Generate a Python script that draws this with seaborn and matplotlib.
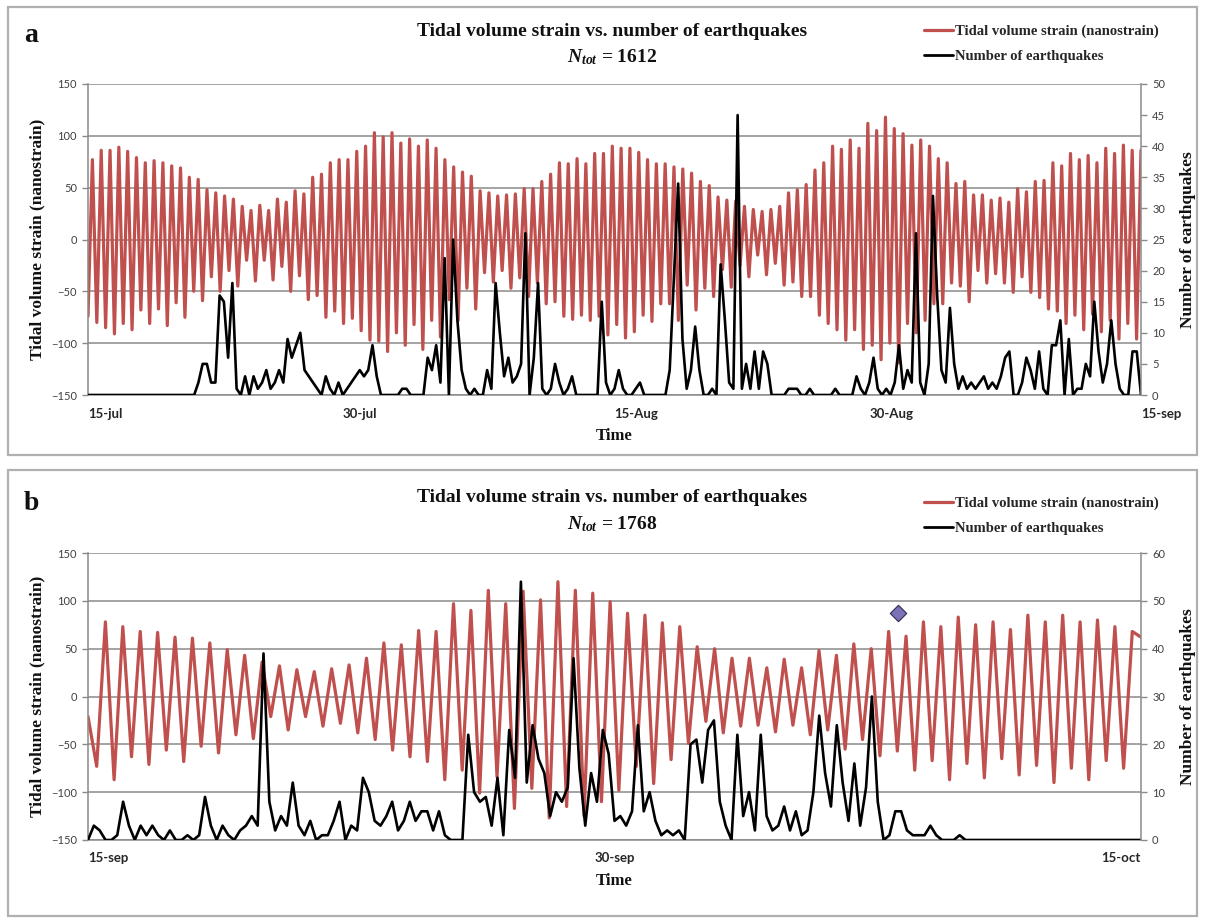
import numpy as np
import pandas as pd
import matplotlib
matplotlib.use("Agg")
import matplotlib.pyplot as plt
from matplotlib.lines import Line2D
from matplotlib.patches import Rectangle
import seaborn as sns

# ---------------- DATA ----------------
# Panel a : 15 Jul - 15 Sep, tidal strain extremes (nanostrain), trough then peak for each cycle
a_troughs = [-74, -80, -85, -91, -81, -87, -68, -81, -67, -83, -61, -75, -50, -59, -36, -50, -30,
             -45, -20, -40, -20, -39, -26, -50, -35, -58, -54, -75, -69, -81, -76, -88, -97, -98,
             -108, -90, -102, -82, -106, -78, -94, -58, -78, -47, -67, -32, -41, -30, -47, -37,
             -55, -42, -62, -60, -74, -77, -73, -78, -74, -92, -82, -95, -89, -73, -79, -62, -62,
             -78, -44, -68, -47, -55, -29, -46, -25, -36, -15, -34, -23, -44, -41, -55, -55, -73,
             -81, -87, -97, -87, -106, -102, -116, -100, -119, -81, -90, -78, -62, -62, -42, -45,
             -60, -30, -42, -33, -42, -51, -36, -51, -56, -67, -69, -81, -73, -87, -72, -89, -78,
             -96, -81, -96]
a_peaks = [77, 86, 86, 89, 85, 79, 74, 76, 74, 71, 69, 60, 58, 48, 45, 42, 39, 32, 28, 33, 28,
           39, 36, 47, 44, 60, 63, 74, 77, 77, 85, 90, 103,
           99, 103, 93, 97, 90, 96, 88, 77, 70, 65, 61, 47, 45, 42, 43, 44, 49, 49, 56, 63, 74,
           73, 78, 73, 83, 83, 90, 88, 88, 84, 77, 73, 73,
           70, 68, 64, 56, 52, 41, 38, 37, 32, 29, 27, 29, 32, 45, 48, 53, 67, 74, 90, 87, 96,
           88, 112, 105, 118, 107, 102, 91, 96, 90, 78, 74, 54,
           56, 43, 43, 38, 40, 36, 49, 46, 56, 57, 74, 71, 83, 77, 81, 74, 88, 83, 91, 86, 86]
# number of earthquakes, 6-hour bins from 15 Jul 00h to 15 Sep 00h
a_quakes = [0, 0, 0, 0,   0, 0, 0, 0,   0, 0, 0, 0,   0, 0, 0, 0,   0, 0, 0, 0,   0, 0, 0, 0,
            0, 0, 2, 5,   5, 2, 2, 16,  15, 6, 18, 1,  0, 3, 0, 3,   1, 2, 4, 1,   2, 4, 2, 9,
            6, 8, 10, 4,  3, 2, 1, 0,   3, 1, 0, 2,   0, 1, 2, 3,   4, 3, 4, 8,   3, 0, 0, 0,
            0, 0, 1, 1,   0, 0, 0, 0,   6, 4, 8, 2,   22, 0, 25, 12, 4, 1, 0, 1,  0, 0, 4, 1,
            18, 10, 3, 6, 2, 3, 5, 26,  0, 6, 18, 1,  0, 1, 5, 2,   0, 1, 3, 0,   0, 0, 0, 0,
            0, 15, 2, 0,  1, 4, 1, 0,   0, 1, 2, 0,   0, 0, 0, 0,   0, 4, 19, 34, 9, 1, 4, 11,
            4, 0, 0, 1,   0, 21, 12, 2, 1, 45, 1, 5,  1, 7, 1, 7,   5, 0, 0, 0,   0, 1, 1, 1,
            0, 0, 1, 0,   0, 0, 0, 0,   1, 0, 0, 0,   0, 3, 1, 0,   2, 6, 1, 0,   1, 0, 2, 8,
            1, 4, 2, 26,  2, 0, 5, 32,  16, 4, 2, 14, 5, 1, 3, 1,   2, 1, 2, 3,   1, 2, 1, 3,
            6, 7, 0, 0,   2, 6, 4, 1,   7, 1, 0, 8,   8, 12, 0, 9,  0, 1, 1, 5,   3, 15, 7, 2,
            5, 12, 5, 1,  0, 0, 7, 7,   0]
a_tick_dates = ["2011-07-15", "2011-07-30", "2011-08-15", "2011-08-30", "2011-09-15"]
a_tick_labels = ["15-jul", "30-jul", "15-Aug", "30-Aug", "15-sep"]
a_ntot = 1612

# Panel b : 15 Sep - 15 Oct
b_start, b_end = -21, 62
b_troughs = [-73, -87, -63, -71, -56, -68, -52, -59, -40, -44, -21, -35, -21, -31, -28, -38, -45,
             -56, -63,
             -68, -87, -77, -101, -84, -117, -96, -127, -115, -125, -110, -98, -73, -91, -66, -49,
             -26, -38, -31, -30, -37, -30,
             -40, -35, -55, -45, -62, -57, -77, -67, -87, -70, -85, -65, -82, -72, -90, -75, -87,
             -67, -75]
b_peaks = [78, 73, 68, 67, 62, 61, 56, 49, 43, 36, 32, 28, 26, 29, 33, 40, 56, 54, 69,
           68, 97, 90, 111, 97, 110, 101, 120, 111, 108, 99, 87, 85, 77, 73, 52, 50, 40, 40, 30, 39,
           30, 48, 43, 55, 50, 68, 63, 78, 73, 83, 75, 78, 70, 85, 78, 85, 78, 80, 73, 68]
# number of earthquakes, 4-hour bins from 15 Sep 00h to 15 Oct 00h
b_quakes = [0, 3, 2, 0, 0, 1,     8, 3, 0, 3, 1, 3,      1, 0, 2, 0, 0, 1,
            0, 1, 9, 3, 0, 3,     1, 0, 2, 3, 5, 3,      39, 8, 2, 5, 3, 12,
            3, 1, 4, 0, 1, 1,     4, 8, 0, 3, 2, 13,     10, 4, 3, 5, 8, 2,
            4, 8, 4, 6, 6, 2,     6, 1, 0, 0, 0, 22,     10, 8, 9, 3, 13, 1,
            23, 13, 54, 12, 24, 17, 14, 5, 10, 8, 11, 38, 15, 3, 14, 8, 23, 18,
            4, 5, 3, 6, 24, 6,    10, 4, 1, 2, 1, 2,     0, 20, 21, 12, 23, 25,
            8, 3, 0, 22, 5, 10,   2, 22, 5, 2, 3, 7,     2, 6, 1, 2, 10, 26,
            14, 7, 24, 12, 4, 16, 3, 11, 30, 8, 0, 1,    6, 6, 2, 1, 1, 1,
            3, 1, 0, 0, 0, 1,     0, 0, 0, 0, 0, 0,      0, 0, 0, 0, 0, 0,
            0, 0, 0, 0, 0, 0,     0, 0, 0, 0, 0, 0,      0, 0, 0, 0, 0, 0,
            0]
b_tick_dates = ["2011-09-15", "2011-09-30", "2011-10-15"]
b_tick_labels = ["15-sep", "30-sep", "15-oct"]
b_ntot = 1768
b_event_time = ["2011-10-08 02:00"]
b_event_value = [87]

strain_ticks = [-150, -100, -50, 0, 50, 100, 150]

# ---------------- STYLE ----------------
sns.set_theme(style="white")
plt.rcParams["font.family"] = ["Liberation Serif", "DejaVu Serif"]
plt.rcParams["mathtext.fontset"] = "custom"
plt.rcParams["mathtext.it"] = "Liberation Serif:italic:bold"
plt.rcParams["mathtext.rm"] = "Liberation Serif:bold"

RED = "#c0504d"
GRID = "#8a8a8a"
TICKC = "#404040"
W, H = 1205, 923


def fx(px):
    return px / W


def fy(py):
    return 1 - py / H


def interleave(troughs, peaks):
    out = []
    for t, p in zip(troughs, peaks):
        out += [t, p]
    return out


fig = plt.figure(figsize=(W / 100, H / 100), dpi=100)

# panel frames
for (top, bot) in [(7, 455), (470, 916)]:
    fig.patches.append(Rectangle((fx(8), fy(bot)), fx(1197) - fx(8), fy(top) - fy(bot),
                                 transform=fig.transFigure, fill=False,
                                 edgecolor="#b0b0b0", lw=1.6, zorder=0))


def draw_panel(top, bot, strain_time, strain, q_time, quakes, qmax, qstep,
               tick_dates, tick_labels, tick_ha, letter, ntot, title_y, leg_y):
    ax = fig.add_axes([fx(88), fy(bot), fx(1141) - fx(88), fy(top) - fy(bot)])
    df_s = pd.DataFrame({"t": strain_time, "v": strain})
    sns.lineplot(data=df_s, x="t", y="v", ax=ax, color=RED, lw=2.3,
                 errorbar=None, sort=False)
    ax.set_ylim(-150, 150)
    ax.set_yticks(strain_ticks)
    ax.set_xlim(pd.Timestamp(tick_dates[0]), pd.Timestamp(tick_dates[-1]))
    ax.grid(axis="y", color=GRID, lw=1.1)
    ax.grid(axis="x", visible=False)
    ax.set_axisbelow(True)
    for s in ["top", "right"]:
        ax.spines[s].set_visible(False)
    for s in ["left", "bottom"]:
        ax.spines[s].set_color(GRID)
        ax.spines[s].set_linewidth(1.1)
    ax.tick_params(axis="y", left=True, length=4, width=1, color=GRID, labelsize=8,
                   labelcolor=TICKC, pad=4, labelfontfamily="Lato")
    ax.set_xticks([pd.Timestamp(d) for d in tick_dates])
    ax.set_xticklabels(tick_labels)
    ax.tick_params(axis="x", bottom=False, length=0, pad=9, labelsize=9.5,
                   labelcolor="#262626", labelfontfamily="Lato")
    for lbl, ha in zip(ax.get_xticklabels(), tick_ha):
        lbl.set_fontweight("bold")
        lbl.set_ha(ha)
    ax.set_xlabel("Time", fontsize=12, fontweight="bold", labelpad=6, color="#111111")
    ax.set_ylabel("Tidal volume strain (nanostrain)", fontsize=12.5, fontweight="bold",
                  labelpad=4, color="#111111")

    ax2 = ax.twinx()
    df_q = pd.DataFrame({"t": q_time, "n": quakes})
    sns.lineplot(data=df_q, x="t", y="n", ax=ax2, color="black", lw=1.9,
                 errorbar=None, sort=False)
    ax2.set_ylim(0, qmax)
    ax2.set_yticks(list(range(0, qmax + 1, qstep)))
    ax2.grid(False)
    for s in ["top", "left", "bottom"]:
        ax2.spines[s].set_visible(False)
    ax2.spines["right"].set_color(GRID)
    ax2.spines["right"].set_linewidth(1.1)
    ax2.tick_params(axis="y", right=True, length=4, width=1, color=GRID, labelsize=8,
                    labelcolor=TICKC, pad=4, labelfontfamily="Lato")
    ax2.set_ylabel("Number of earthquakes", fontsize=12.5, fontweight="bold", labelpad=11,
                   color="#111111")
    ax2.set_xlabel("")
    ax2.set_xlim(pd.Timestamp(tick_dates[0]), pd.Timestamp(tick_dates[-1]))

    # texts
    fig.text(fx(24), fy(title_y + 5), letter, fontsize=20, fontweight="bold",
             va="center", ha="left", color="#111111")
    fig.text(fx(612), fy(title_y), "Tidal volume strain vs. number of earthquakes",
             fontsize=14, fontweight="bold", ha="center", va="center", color="#111111")
    fig.text(fx(612), fy(title_y + 26), r"$N_{tot}$" + " = %d" % ntot,
             fontsize=14, fontweight="bold", ha="center", va="center", color="#111111")
    handles = [Line2D([], [], color=RED, lw=2.3), Line2D([], [], color="black", lw=2.0)]
    fig.legend(handles, ["Tidal volume strain (nanostrain)", "Number of earthquakes"],
               loc="upper left", bbox_to_anchor=(fx(924), fy(leg_y)), frameon=False,
               prop={"family": "Liberation Serif", "weight": "bold", "size": 10.5},
               handlelength=2.0, handletextpad=0.1, labelspacing=0.75,
               borderaxespad=0, borderpad=0)
    return ax, ax2


# panel a
a_strain = interleave(a_troughs, a_peaks)
a_strain_time = pd.date_range(a_tick_dates[0], a_tick_dates[-1], periods=len(a_strain))
a_q_time = pd.date_range(a_tick_dates[0], periods=len(a_quakes), freq="6h")
draw_panel(84, 395, a_strain_time, a_strain, a_q_time, a_quakes, 50, 5,
           a_tick_dates, a_tick_labels, ["left"] * 5, "a", a_ntot, 31, 25)

# panel b
b_strain = [b_start] + interleave(b_troughs, b_peaks) + [b_end]
b_strain_time = pd.date_range(b_tick_dates[0], b_tick_dates[-1], periods=len(b_strain))
b_q_time = pd.date_range(b_tick_dates[0], periods=len(b_quakes), freq="4h")
axb, axb2 = draw_panel(553, 840, b_strain_time, b_strain, b_q_time, b_quakes, 60, 10,
                       b_tick_dates, b_tick_labels, ["left", "center", "right"], "b",
                       b_ntot, 498, 497)
ev = pd.DataFrame({"t": pd.to_datetime(b_event_time), "v": b_event_value})
sns.scatterplot(data=ev, x="t", y="v", ax=axb, marker="D", s=70, color="#7b72b8",
                edgecolor="#2a2a55", linewidth=0.8, zorder=5)
axb.set_xlabel("Time", fontsize=12, fontweight="bold", labelpad=6, color="#111111")
axb.set_ylabel("Tidal volume strain (nanostrain)", fontsize=12.5, fontweight="bold",
               labelpad=4, color="#111111")

fig.savefig("out.png", dpi=100)
